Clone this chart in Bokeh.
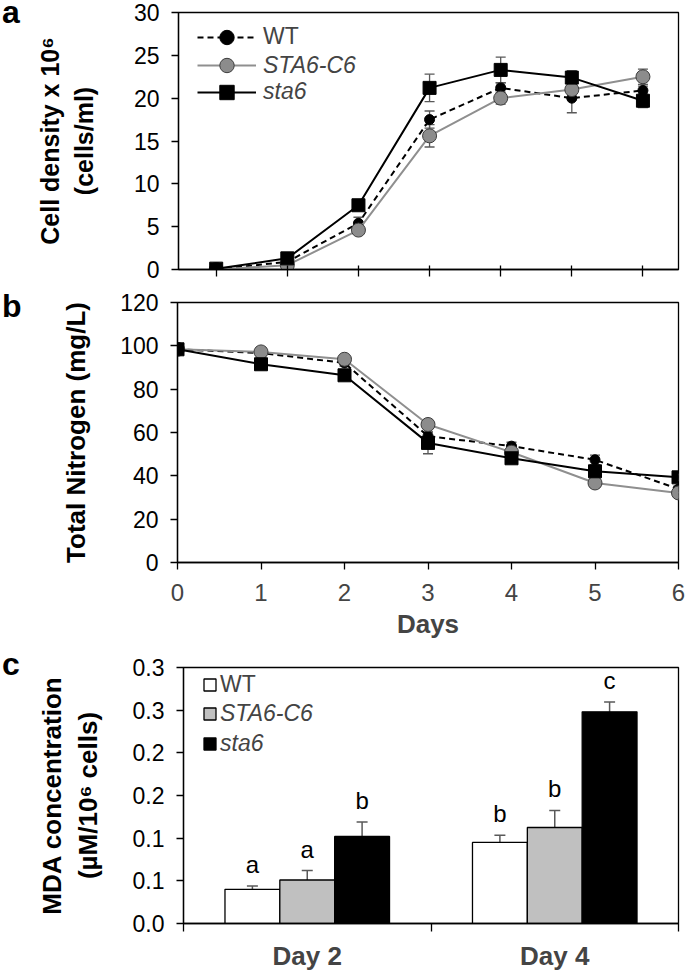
from bokeh.plotting import figure
from bokeh.layouts import column, row
from bokeh.models import (ColumnDataSource, Whisker, TeeHead, Legend, LegendItem, Div,
                          FixedTicker, Range1d, LinearAxis)
from bokeh.core.properties import value
from bokeh.embed import file_html
from bokeh.resources import INLINE

# ---------------- data ----------------
days = [0, 1, 2, 3, 4, 5, 6]

density_wt = [0.0, 0.9, 5.4, 17.5, 21.2, 20.0, 20.9]
density_wt_err = [0.1, 0.2, 0.7, 1.0, 0.6, 1.7, 0.5]
density_c6 = [0.0, 0.5, 4.6, 15.6, 20.0, 21.0, 22.5]
density_c6_err = [0.1, 0.2, 0.3, 1.3, 0.7, 0.4, 0.9]
density_sta6 = [0.1, 1.3, 7.5, 21.2, 23.3, 22.4, 19.7]
density_sta6_err = [0.1, 0.2, 0.3, 1.6, 1.5, 0.8, 0.8]

nitrogen_wt = [98.4, 96.7, 92.1, 58.3, 53.7, 47.4, 33.9]
nitrogen_wt_err = [1.0, 1.2, 1.5, 2.0, 1.8, 2.2, 1.5]
nitrogen_c6 = [98.4, 97.2, 93.8, 63.7, 50.9, 36.7, 32.1]
nitrogen_c6_err = [1.0, 1.5, 2.0, 2.0, 1.5, 1.5, 2.0]
nitrogen_sta6 = [98.4, 91.5, 86.4, 55.2, 48.1, 42.1, 39.3]
nitrogen_sta6_err = [1.0, 1.2, 1.5, 5.0, 1.5, 2.0, 1.5]

groups = ["Day 2", "Day 4"]
mda_wt = [0.040, 0.095]
mda_wt_err = [0.004, 0.0085]
mda_c6 = [0.051, 0.1125]
mda_c6_err = [0.011, 0.020]
mda_sta6 = [0.102, 0.248]
mda_sta6_err = [0.017, 0.0115]
letters_wt = ["a", "b"]
letters_c6 = ["a", "b"]
letters_sta6 = ["b", "c"]

density_ticks = [0, 5, 10, 15, 20, 25, 30]
nitrogen_ticks = [0, 20, 40, 60, 80, 100, 120]
mda_ticks = [0, 0.05, 0.1, 0.15, 0.2, 0.25, 0.3]
mda_tick_labels = ["0.0", "0.1", "0.1", "0.2", "0.2", "0.3", "0.3"]

series_names = ["WT", "STA6-C6", "sta6"]
panel_names = ["a", "b", "c"]

# ---------------- styles ----------------
FONT = "Liberation Sans"
W = 685
LETTER_W = 33
PW = W - LETTER_W
FRAME_L = 177 - LETTER_W
FRAME_R = 7
ERR_COLOR = "#595959"
C6_FILL = "#8c8c8c"
C6_LINE = "#8f8f8f"


def base_style(p):
    p.xgrid.visible = False
    p.ygrid.visible = False
    p.outline_line_color = "black"
    p.outline_line_width = 1.3
    p.background_fill_color = "white"
    p.border_fill_color = "white"


def hide_labels(ax, ticks):
    ax.major_label_overrides = {t: "" for t in ticks}
    ax.major_label_standoff = 0


def style_yaxis(ax, ticks, title, standoff, title_size="26px"):
    ax.ticker = FixedTicker(ticks=ticks)
    ax.major_tick_out = 7
    ax.major_tick_in = 0
    ax.minor_tick_out = 0
    ax.minor_tick_in = 0
    ax.major_label_standoff = 12
    ax.major_label_text_font = FONT
    ax.major_label_text_font_size = "23px"
    ax.major_label_text_color = "black"
    ax.axis_line_width = 1.3
    ax.major_tick_line_width = 1.3
    ax.axis_label = title
    ax.axis_label_text_font = FONT
    ax.axis_label_text_font_size = title_size
    ax.axis_label_text_font_style = "bold"
    ax.axis_label_text_color = "black"
    ax.axis_label_standoff = standoff


def letter_div(text, height, pad_top):
    html = ('<div style="font-family: \'Liberation Sans\', Arial, sans-serif; font-size: 32px; '
            'font-weight: bold; line-height: 24px; color: black; '
            'padding-top: %dpx; padding-left: 2px; margin: 0;">%s</div>' % (pad_top, text))
    return Div(text=html, width=LETTER_W, height=height, margin=0)


def line_panel(p, wt, wt_err, c6, c6_err, st, st_err):
    srcs = []
    for vals, errs in ((wt, wt_err), (c6, c6_err), (st, st_err)):
        srcs.append(ColumnDataSource(dict(
            x=days, y=vals,
            lo=[v - e for v, e in zip(vals, errs)],
            hi=[v + e for v, e in zip(vals, errs)])))
    for s in srcs:
        p.add_layout(Whisker(source=s, base="x", lower="lo", upper="hi",
                             line_color=ERR_COLOR, line_width=1.3,
                             upper_head=TeeHead(size=10, line_color=ERR_COLOR, line_width=1.3),
                             lower_head=TeeHead(size=10, line_color=ERR_COLOR, line_width=1.3)))
    l_wt = p.line("x", "y", source=srcs[0], line_color="black", line_width=2, line_dash="6 4")
    m_wt = p.scatter("x", "y", source=srcs[0], marker="circle", size=10,
                     fill_color="black", line_color="black")
    l_c6 = p.line("x", "y", source=srcs[1], line_color=C6_LINE, line_width=2)
    m_c6 = p.scatter("x", "y", source=srcs[1], marker="circle", size=14,
                     fill_color=C6_FILL, line_color="#3c3c3c", line_width=1)
    l_st = p.line("x", "y", source=srcs[2], line_color="black", line_width=2)
    m_st = p.scatter("x", "y", source=srcs[2], marker="square", size=13,
                     fill_color="black", line_color="black")
    return [(l_wt, m_wt), (l_c6, m_c6), (l_st, m_st)]


# ---------------- panel a ----------------
H1 = 285
p1 = figure(width=PW, height=H1, x_range=Range1d(-0.53, 6.5), y_range=Range1d(0, 30),
            output_backend="svg", toolbar_location=None,
            min_border_left=FRAME_L, min_border_right=FRAME_R,
            min_border_top=12, min_border_bottom=16)
base_style(p1)
rend_a = line_panel(p1, density_wt, density_wt_err, density_c6, density_c6_err,
                    density_sta6, density_sta6_err)
xa = p1.xaxis[0]
xa.ticker = FixedTicker(ticks=days)
xa.major_tick_in = 4
xa.major_tick_out = 7
xa.minor_tick_in = 0
xa.minor_tick_out = 0
hide_labels(xa, days)
xa.axis_line_width = 1.3
xa.major_tick_line_width = 1.3
style_yaxis(p1.yaxis[0], density_ticks, "Cell density x 10\u2076\n(cells/ml)", 33, "25px")

leg_centers_a = [36.7, 65.0, 91.7]
frame_bottom_a = 269
for (lr, mr), name, cy in zip(rend_a, series_names, leg_centers_a):
    lg = Legend(items=[LegendItem(label=name, renderers=[lr, mr])],
                location=(19, frame_bottom_a - (cy + 18)),
                glyph_width=59, glyph_height=36, label_height=36, label_standoff=7,
                padding=0, margin=0, spacing=0,
                border_line_color=None, background_fill_alpha=0,
                label_text_font=FONT, label_text_font_size="23px",
                label_text_font_style="normal" if name == "WT" else "italic")
    p1.add_layout(lg, "center")

# ---------------- panel b ----------------
H2 = 360
p2 = figure(width=PW, height=H2, x_range=Range1d(0, 6), y_range=Range1d(0, 120),
            output_backend="svg", toolbar_location=None,
            min_border_left=FRAME_L, min_border_right=FRAME_R,
            min_border_top=17, min_border_bottom=83)
base_style(p2)
line_panel(p2, nitrogen_wt, nitrogen_wt_err, nitrogen_c6, nitrogen_c6_err,
           nitrogen_sta6, nitrogen_sta6_err)
xb = p2.xaxis[0]
xb.ticker = FixedTicker(ticks=days)
xb.major_tick_in = 0
xb.major_tick_out = 7
xb.minor_tick_in = 0
xb.minor_tick_out = 0
xb.major_label_text_font = FONT
xb.major_label_text_font_size = "24px"
xb.major_label_standoff = 14
xb.axis_line_width = 1.3
xb.major_tick_line_width = 1.3
xb.axis_label = "Days"
xb.axis_label_text_font = FONT
xb.axis_label_text_font_size = "26px"
xb.axis_label_text_font_style = "bold"
xb.axis_label_standoff = 5
style_yaxis(p2.yaxis[0], nitrogen_ticks, "Total Nitrogen (mg/L)", 26)

# ---------------- panel c ----------------
H3 = 328
group_pos = [i + 0.5 for i in range(len(groups))]
group_edges = list(range(len(groups) + 1))

p3 = figure(width=PW, height=H3, x_range=Range1d(0, len(groups)), y_range=Range1d(0, 0.3),
            output_backend="svg", toolbar_location=None,
            min_border_left=FRAME_L, min_border_right=FRAME_R,
            min_border_top=22, min_border_bottom=48)
base_style(p3)
xc = p3.xaxis[0]
xc.ticker = FixedTicker(ticks=group_edges)
xc.major_tick_out = 8
xc.major_tick_in = 0
xc.minor_tick_in = 0
xc.minor_tick_out = 0
hide_labels(xc, group_edges)
xc.axis_line_width = 1.3
xc.major_tick_line_width = 1.3
cat_axis = LinearAxis(ticker=FixedTicker(ticks=group_pos),
                      major_label_overrides={gp: g for gp, g in zip(group_pos, groups)},
                      axis_line_color=None, major_tick_line_color=None,
                      major_tick_in=0, major_tick_out=0, minor_tick_in=0, minor_tick_out=0,
                      major_label_text_font=FONT, major_label_text_font_size="26px",
                      major_label_text_font_style="bold", major_label_standoff=9)
p3.add_layout(cat_axis, "below")
style_yaxis(p3.yaxis[0], mda_ticks, "MDA concentration\n(\u00b5M/10\u2076 cells)", 27)
p3.yaxis[0].major_label_overrides = {t: s for t, s in zip(mda_ticks, mda_tick_labels)}

BAR_W = 0.2216
bar_specs = [
    (mda_wt, mda_wt_err, letters_wt, "white", -BAR_W),
    (mda_c6, mda_c6_err, letters_c6, "#c0c0c0", 0.0),
    (mda_sta6, mda_sta6_err, letters_sta6, "black", BAR_W),
]
bar_rends = []
for vals, errs, lets, color, off in bar_specs:
    s = ColumnDataSource(dict(x=[gp + off for gp in group_pos], y=vals,
                              lo=[v - e for v, e in zip(vals, errs)],
                              hi=[v + e for v, e in zip(vals, errs)],
                              let=lets))
    r = p3.vbar(x="x", top="y", width=BAR_W, source=s,
                fill_color=color, line_color="black", line_width=1.3)
    bar_rends.append(r)
    p3.add_layout(Whisker(source=s, base="x", lower="lo", upper="hi",
                          line_color=ERR_COLOR, line_width=1.5,
                          upper_head=TeeHead(size=11, line_color=ERR_COLOR, line_width=1.5),
                          lower_head=TeeHead(size=11, line_color=ERR_COLOR, line_width=1.5)))
    p3.text(x="x", y="hi", text="let", source=s,
            text_align="center", text_baseline="bottom", y_offset=-8,
            text_font=value(FONT), text_font_size="24px", text_color="black")

leg_centers_c = [692.3, 721.7, 751.0]
frame_bottom_c = 925
for r, name, cy in zip(bar_rends, series_names, leg_centers_c):
    lg = Legend(items=[LegendItem(label=name, renderers=[r])],
                location=(19, frame_bottom_c - (cy + 7.5)),
                glyph_width=15, glyph_height=15, label_height=15, label_standoff=3,
                padding=0, margin=0, spacing=0,
                border_line_color=None, background_fill_alpha=0,
                label_text_font=FONT, label_text_font_size="23px",
                label_text_font_style="normal" if name == "WT" else "italic")
    p3.add_layout(lg, "center")

# panel letters as HTML text beside each panel
la = letter_div(panel_names[0], H1, 0)
lb = letter_div(panel_names[1], H2, 9)
lc = letter_div(panel_names[2], H3, 7)

layout = column(row(la, p1), row(lb, p2), row(lc, p3))
open("out.html", "w").write(file_html(layout, INLINE))
